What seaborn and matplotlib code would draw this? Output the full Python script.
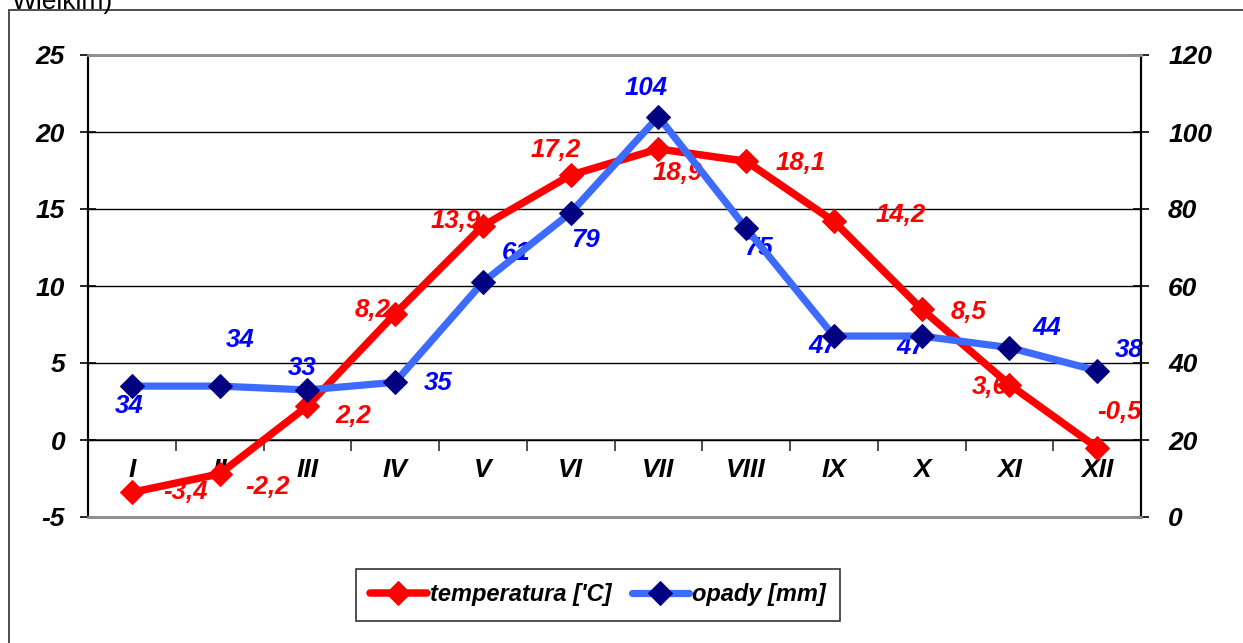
import numpy as np
import pandas as pd
import matplotlib
matplotlib.use("Agg")
import matplotlib.pyplot as plt
from matplotlib.patches import Rectangle
import seaborn as sns

months = ["I", "II", "III", "IV", "V", "VI", "VII", "VIII", "IX", "X", "XI", "XII"]
temperature = [-3.4, -2.2, 2.2, 8.2, 13.9, 17.2, 18.9, 18.1, 14.2, 8.5, 3.6, -0.5]
precipitation = [34, 34, 33, 35, 61, 79, 104, 75, 47, 47, 44, 38]
temp_ticks = [-5, 0, 5, 10, 15, 20, 25]
prec_ticks = [0, 20, 40, 60, 80, 100, 120]
series_names = ["temperatura ['C]", "opady [mm]"]
title_fragment = "Wielkim)"

# label offsets in pixels (dx right, dy down) - layout only
temp_label_offsets = [(54, 0), (48, 13), (46, 10), (-23, -4), (-27, -5), (-15, -25),
                      (19, 24), (55, 2), (67, -6), (47, 3), (-20, 2), (22, -36)]
prec_label_offsets = [(-3, 20), (21, -46), (-5, -22), (43, 1), (33, -29), (15, 27),
                      (-12, -29), (12, 20), (-11, 10), (-11, 11), (37, -20), (32, -21)]

sns.set_style("white")
plt.rcParams["font.family"] = ["Liberation Sans", "DejaVu Sans"]
plt.rcParams["text.color"] = "black"
plt.rcParams["xtick.color"] = "black"
plt.rcParams["ytick.color"] = "black"

W, H = 1243, 643
fig = plt.figure(figsize=(W / 100, H / 100), dpi=100)
ax = fig.add_axes([88 / W, 1 - 517 / H, (1141 - 88) / W, (517 - 55) / H])
ax2 = ax.twinx()

df = pd.DataFrame({"pos": np.arange(len(months)), "month": months,
                   "temp": temperature, "prec": precipitation})

FS_TICK = 19
FS_LAB = 18.5
FS_LEG = 17
RED = "#FF0000"
BLUE_LINE = "#3D6BFF"
NAVY = "#000080"
BLUE_TXT = "#0000FF"

sns.lineplot(data=df, x="pos", y="temp", ax=ax, color=RED, linewidth=5.4,
             marker="D", markersize=12, markerfacecolor=RED, markeredgecolor=RED,
             label=series_names[0], legend=False, zorder=3)
sns.lineplot(data=df, x="pos", y="prec", ax=ax2, color=BLUE_LINE, linewidth=5.2,
             marker="D", markersize=12, markerfacecolor=NAVY, markeredgecolor=NAVY,
             label=series_names[1], legend=False, zorder=3)

ymin, ymax = temp_ticks[0], temp_ticks[-1]
ax.set_xlim(-0.5, len(months) - 0.5)
ax.set_ylim(ymin, ymax)
ax2.set_ylim(prec_ticks[0], prec_ticks[-1])
ax.set_yticks(temp_ticks)
ax2.set_yticks(prec_ticks)
ax.set_yticklabels([str(v) for v in temp_ticks])
ax2.set_yticklabels([str(v) for v in prec_ticks])
ax.set_xlabel("")
ax.set_ylabel("")
ax2.set_ylabel("")
ax.set_xticks([])
ax2.set_xticks([])

tick_font = dict(fontsize=FS_TICK, fontweight="bold", fontstyle="italic")
for lab in ax.get_yticklabels() + ax2.get_yticklabels():
    lab.set_fontsize(FS_TICK)
    lab.set_fontweight("bold")
    lab.set_fontstyle("italic")
ax.tick_params(axis="y", direction="inout", length=11, width=1.2, color="black", pad=11)
ax2.tick_params(axis="y", direction="inout", length=11, width=1.2, color="black", pad=14)

# grid
ax.yaxis.grid(True, color="black", linewidth=1.0)
ax.set_axisbelow(True)

for a in (ax, ax2):
    a.spines["left"].set_color("black")
    a.spines["right"].set_color("black")
    a.spines["left"].set_linewidth(1.5)
    a.spines["right"].set_linewidth(1.5)
    a.spines["top"].set_color("#909090")
    a.spines["bottom"].set_color("#909090")
    a.spines["top"].set_linewidth(2)
    a.spines["bottom"].set_linewidth(2)

# category axis at y = 0
frac = (0 - ymin) / (ymax - ymin)
sec = ax.secondary_xaxis(frac)
sec.spines["bottom"].set_color("#505050")
sec.spines["bottom"].set_linewidth(1.5)
sec.set_xticks(df["pos"].values)
sec.set_xticklabels(months, **tick_font)
sec.set_xticks(df["pos"].values[:-1] + 0.5, minor=True)
sec.tick_params(axis="x", which="major", length=0, pad=13)
sec.tick_params(axis="x", which="minor", length=8, width=1.2, direction="out", color="#303030")

# data labels
label_font = dict(fontsize=FS_LAB, fontweight="bold", fontstyle="italic", ha="center", va="center")
for i, (v, (dx, dy)) in enumerate(zip(temperature, temp_label_offsets)):
    ax.annotate(f"{v:.1f}".replace(".", ","), xy=(i, v), xytext=(dx, -dy),
                textcoords="offset pixels", color=RED, zorder=2, **label_font)
for i, (v, (dx, dy)) in enumerate(zip(precipitation, prec_label_offsets)):
    ax2.annotate(str(v), xy=(i, v), xytext=(dx, -dy),
                 textcoords="offset pixels", color=BLUE_TXT, zorder=2, **label_font)

# legend
h1, l1 = ax.get_legend_handles_labels()
h2, l2 = ax2.get_legend_handles_labels()
leg = fig.legend(h1 + h2, l1 + l2, loc="center", bbox_to_anchor=(598 / W, 1 - 595 / H),
                 ncol=2, frameon=True, fancybox=False, edgecolor="black",
                 prop=dict(family=["Liberation Sans", "DejaVu Sans"], size=FS_LEG,
                           weight="bold", style="italic"),
                 handlelength=2.4, handletextpad=0.15, columnspacing=0.85,
                 borderpad=0.6, borderaxespad=0)
leg.get_frame().set_linewidth(1.2)
leg.get_frame().set_boxstyle("square", pad=0)

# outer chart border and cut title
fig.patches.append(Rectangle((9 / W, -0.1), 1.2, 1 - 10 / H + 0.1, transform=fig.transFigure,
                             fill=False, edgecolor="#404040", linewidth=1.3))
fig.text(12 / W, 1 - 9 / H, title_fragment, fontsize=19, va="baseline", ha="left")

fig.savefig("out.png", dpi=100)
